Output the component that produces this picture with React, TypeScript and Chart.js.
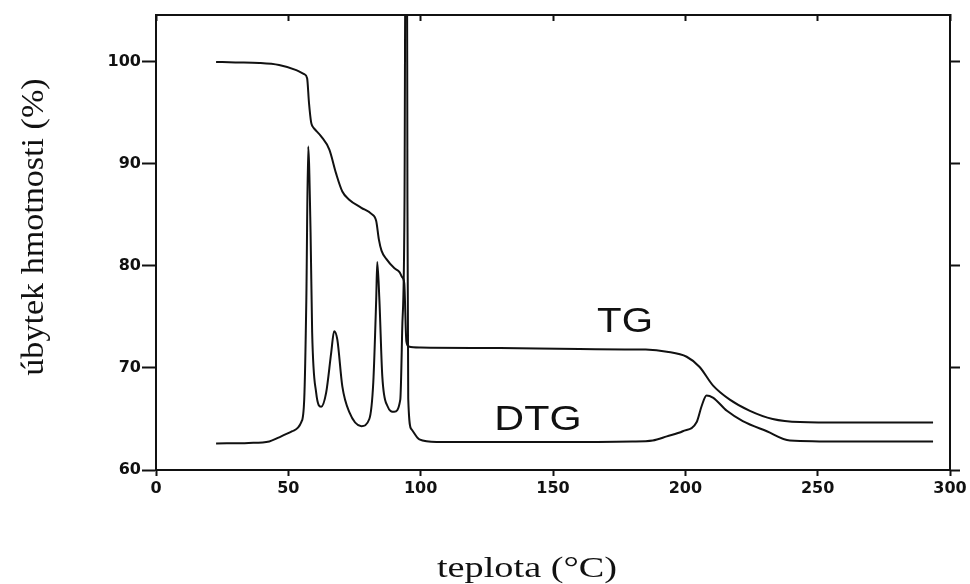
import { useEffect, useRef } from "react";
import { Chart, registerables } from "chart.js";

Chart.register(...registerables);

// TG curve: remaining mass (%) against temperature (°C)
const tgTemp = [
  22.7, 30, 39, 46.5, 53, 56, 57.1, 57.8, 58.6, 59.1, 60, 62.4, 65.5, 68, 70.4, 73,
  77.6, 81.4, 83.2, 84.2, 85.2, 87, 90, 92, 93, 93.8, 94.6, 95.5, 100, 130, 160, 185, 193,
  200.5, 205.4, 210.4, 216.8, 224.4, 233, 243.3, 260, 293.6,
];
const tgMass = [
  100.0, 99.95, 99.9, 99.7, 99.2, 98.8, 98.4, 96.0, 94.1, 93.7, 93.4, 92.7, 91.4, 89.1, 87.3, 86.5,
  85.7, 85.1, 84.4, 82.6, 81.5, 80.7, 79.8, 79.4, 78.9, 78.3, 72.6, 72.1, 72.0, 71.95, 71.85, 71.8, 71.6,
  71.1, 70.1, 68.3, 66.9, 65.8, 65.0, 64.7, 64.65, 64.65,
];

// DTG curve, plotted on the same vertical scale
const dtgTemp = [
  22.7, 35, 42.8, 46.5, 51.5, 54.9, 56, 56.8, 57.5, 58.4, 59, 60.5, 62.4, 64.3, 66.2, 67.3,
  68.5, 70.4, 73, 77.6, 80.6, 82.1, 83.2, 83.6, 84.4, 85.5, 87.4, 90, 92.3, 93, 93.9, 94.3,
  94.8, 95.0, 95.3, 96.5, 99.5, 106, 150, 180, 187.7, 193, 199, 204.3, 206.2, 208, 210.4, 215.7,
  221.7, 230.8, 239.5, 260, 293.6,
];
const dtgSignal = [
  62.6, 62.65, 62.8, 63.2, 63.8, 64.7, 66.9, 76.7, 91.7, 83.3, 73.5, 67.6, 66.2, 67.6, 71.5, 73.6,
  72.8, 68.2, 65.7, 64.3, 65.0, 68.6, 76.7, 80.4, 76.7, 69.2, 66.3, 65.7, 66.9, 73.5, 86.5, 115,
  115, 86.5, 67.0, 64.0, 63.0, 62.75, 62.75, 62.8, 62.9, 63.3, 63.8, 64.7, 66.3, 67.3, 67.1, 65.8,
  64.8, 63.8, 62.9, 62.8, 62.8,
];

const xTicks = [0, 50, 100, 150, 200, 250, 300];
const yTicks = [60, 70, 80, 90, 100];

const X_MIN = 0;
const X_MAX = 300;
const Y_MIN = 60;
const Y_MAX = 104.6;

// where the curve names sit, in data units (centre x, baseline y)
const tgLabelAt = [177.2, 73.5];
const dtgLabelAt = [144.3, 63.9];

const INK = "#111111";

function zip(xs: number[], ys: number[]) {
  return xs.map((x, i) => ({ x, y: ys[i] }));
}

function fixedTicks(values: number[]) {
  return (scale: any) => {
    scale.ticks = values.map((value) => ({ value }));
  };
}

function drawStretched(
  ctx: CanvasRenderingContext2D,
  text: string,
  cx: number,
  cy: number,
  font: string,
  stretch: number,
  angle = 0
) {
  ctx.save();
  ctx.translate(cx, cy);
  ctx.rotate(angle);
  ctx.scale(stretch, 1);
  ctx.font = font;
  ctx.textAlign = "center";
  ctx.textBaseline = "alphabetic";
  ctx.fillText(text, 0, 0);
  ctx.restore();
}

const labelsPlugin = {
  id: "thermoLabels",
  afterDraw(chart: any) {
    const { ctx } = chart;
    const x = chart.scales.x;
    const y = chart.scales.y;
    ctx.save();
    ctx.fillStyle = INK;
    drawStretched(
      ctx,
      "TG",
      x.getPixelForValue(tgLabelAt[0]),
      y.getPixelForValue(tgLabelAt[1]),
      '35px "Liberation Sans"',
      1.15
    );
    drawStretched(
      ctx,
      "DTG",
      x.getPixelForValue(dtgLabelAt[0]),
      y.getPixelForValue(dtgLabelAt[1]),
      '35px "Liberation Sans"',
      1.18
    );
    // axis titles
    drawStretched(ctx, "teplota (°C)", 527, 577, '29px "Liberation Serif"', 1.32);
    drawStretched(ctx, "úbytek hmotnosti (%)", 43, 227, '31px "Liberation Serif"', 1.1, -Math.PI / 2);
    ctx.restore();
  },
};

const frameGrid = (tickLength: number) => ({
  display: true,
  drawOnChartArea: false,
  drawTicks: true,
  tickLength,
  tickWidth: 2,
  tickColor: INK,
  color: INK,
});

const frameBorder = { display: true, color: INK, width: 2 };

export default function App() {
  const canvasRef = useRef<HTMLCanvasElement | null>(null);

  useEffect(() => {
    const canvas = canvasRef.current;
    if (!canvas) return;
    const tickFont = { family: '"DejaVu Sans"', size: 16, weight: "bold" as const };

    const chart = new Chart(canvas, {
      type: "line",
      data: {
        datasets: [
          {
            label: "TG",
            data: zip(tgTemp, tgMass),
            borderColor: INK,
            borderWidth: 2,
            pointRadius: 0,
            fill: false,
            cubicInterpolationMode: "monotone",
          },
          {
            label: "DTG",
            data: zip(dtgTemp, dtgSignal),
            borderColor: INK,
            borderWidth: 2,
            pointRadius: 0,
            fill: false,
            cubicInterpolationMode: "monotone",
          },
        ],
      },
      options: {
        animation: false,
        responsive: false,
        maintainAspectRatio: false,
        layout: { padding: 0 },
        plugins: {
          legend: { display: false },
          tooltip: { enabled: false },
        },
        scales: {
          x: {
            type: "linear",
            position: "bottom",
            min: X_MIN,
            max: X_MAX,
            afterBuildTicks: fixedTicks(xTicks),
            afterFit: (s: any) => {
              s.height = 114;
            },
            ticks: { color: INK, font: tickFont, padding: 3, maxRotation: 0 },
            grid: frameGrid(6),
            border: frameBorder,
          },
          x2: {
            type: "linear",
            position: "top",
            min: X_MIN,
            max: X_MAX,
            afterBuildTicks: fixedTicks(xTicks),
            afterFit: (s: any) => {
              s.height = 15;
            },
            ticks: { display: false },
            grid: frameGrid(-6),
            border: frameBorder,
          },
          y: {
            type: "linear",
            position: "left",
            min: Y_MIN,
            max: Y_MAX,
            afterBuildTicks: fixedTicks(yTicks),
            afterFit: (s: any) => {
              s.width = 156;
            },
            ticks: { color: INK, font: tickFont, padding: 1 },
            grid: frameGrid(14),
            border: frameBorder,
          },
          y2: {
            type: "linear",
            position: "right",
            min: Y_MIN,
            max: Y_MAX,
            afterBuildTicks: fixedTicks(yTicks),
            afterFit: (s: any) => {
              s.width = 20;
            },
            ticks: { display: false },
            grid: frameGrid(10),
            border: frameBorder,
          },
        },
      },
      plugins: [labelsPlugin],
    } as any);

    return () => chart.destroy();
  }, []);

  return (
    <div
      style={{
        position: "absolute",
        left: 0,
        top: 0,
        width: 970,
        height: 584,
        background: "#ffffff",
      }}
    >
      <canvas ref={canvasRef} width={970} height={584} />
    </div>
  );
}
